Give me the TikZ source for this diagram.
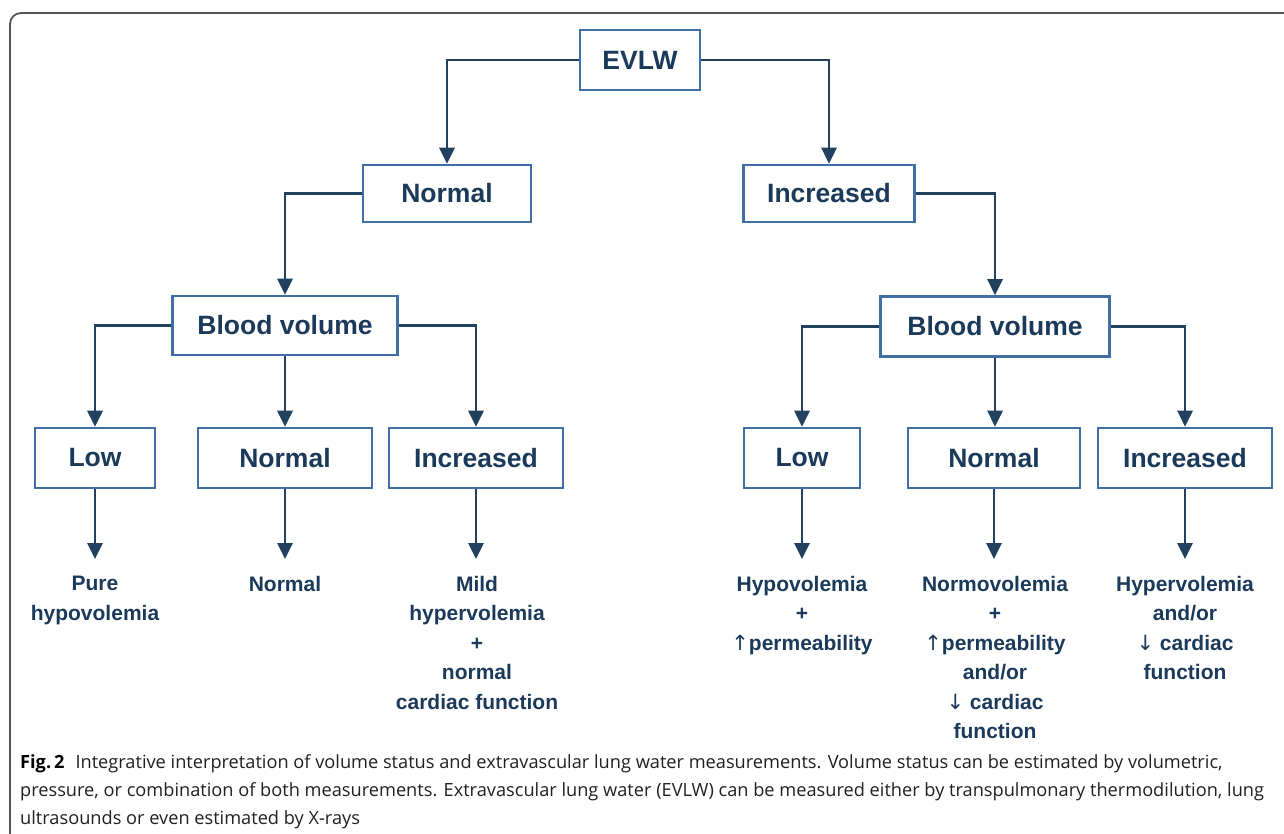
\documentclass[tikz,border=0pt]{standalone}
\usepackage{fontspec}
\setmainfont{Liberation Sans}
\newfontfamily\capfont{Open Sans}
\newfontfamily\arrowfont{DejaVu Sans}
\usetikzlibrary{arrows.meta,positioning}
\definecolor{navy}{HTML}{1B3A5A}
\definecolor{boxblue}{HTML}{3F6FA5}
\definecolor{linecol}{HTML}{22415F}
\definecolor{capcol}{HTML}{231F20}
\definecolor{framecol}{HTML}{555555}
\tikzset{
  box/.style={draw=boxblue, line width=2.6pt, fill=white, text=navy,
    font=\fontsize{26.5}{30}\selectfont\bfseries, inner sep=0pt},
  conn/.style={draw=linecol, line width=2.8pt, -{Triangle[width=15pt,length=16pt]}},
  result/.style={text=navy, font=\fontsize{21}{29.4}\selectfont\bfseries,
    align=center, anchor=north, inner sep=0pt},
  captxt/.style={text=capcol, font=\capfont\fontsize{18.2}{28}\selectfont, anchor=base west, inner sep=0pt}
}
\begin{document}
\begin{tikzpicture}[x=1pt,y=-1pt]
\useasboundingbox (0,0) rectangle (1284,833);
\begin{scope}
\clip (0,0) rectangle (1284,833);
\draw[framecol, line width=1.8pt, rounded corners=11pt] (1300,13) -- (10,13) -- (10,860);
\end{scope}

% boxes
\node[box, minimum width=120pt, minimum height=60pt] (evlw) at (640,60) {EVLW};
\node[box, minimum width=168pt, minimum height=57pt] (nor) at (447,193.5) {Normal};
\node[box, minimum width=171pt, minimum height=57pt] (inc) at (829,193.5) {Increased};
\node[box, minimum width=225pt, minimum height=59pt] (bva) at (285,325.5) {Blood volume};
\node[box, minimum width=229pt, minimum height=60pt] (bvb) at (995,326.5) {Blood volume};
\node[box, minimum width=120pt, minimum height=60pt] (lowa) at (95,458) {Low};
\node[box, minimum width=174pt, minimum height=60pt] (norma) at (285,458) {Normal};
\node[box, minimum width=174pt, minimum height=60pt] (inca) at (476,458) {Increased};
\node[box, minimum width=116pt, minimum height=60pt] (lowb) at (802,458) {Low};
\node[box, minimum width=172pt, minimum height=60pt] (normb) at (994,458) {Normal};
\node[box, minimum width=174pt, minimum height=60pt] (incb) at (1185,458) {Increased};

% results
\node[result] (ra) at (95,576) {Pure\\hypovolemia};
\node[result] (rb) at (285,576) {Normal};
\node[result] (rc) at (477,576) {Mild\\hypervolemia\\+\\normal\\cardiac function};
\node[result] (rd) at (802,576) {Hypovolemia\\+\\{\arrowfont\mdseries ↑}permeability};
\node[result] (re) at (995,576) {Normovolemia\\+\\{\arrowfont\mdseries ↑}permeability\\and/or\\{\arrowfont\mdseries ↓} cardiac\\function};
\node[result] (rf) at (1185,576) {Hypervolemia\\and/or\\{\arrowfont\mdseries ↓} cardiac\\function};

% connectors
\draw[conn] (evlw.west) -| (nor.north);
\draw[conn] (evlw.east) -| (inc.north);
\draw[conn] (nor.west) -| (bva.north);
\draw[conn] (inc.east) -| (bvb.north);
\draw[conn] (bva.west) -| (lowa.north);
\draw[conn] (bva.south) -- (norma.north);
\draw[conn] (bva.east) -| (inca.north);
\draw[conn] (bvb.west) -| (lowb.north);
\draw[conn] (bvb.south) -- (bvb.south |- normb.north);
\draw[conn] (bvb.east) -| (incb.north);

\coordinate (ea) at (95,559);
\coordinate (eb) at (285,559);
\coordinate (ec) at (476,559);
\coordinate (ed) at (802,559);
\coordinate (ee) at (994,559);
\coordinate (ef) at (1185,559);
\draw[conn] (lowa.south) -- (ea);
\draw[conn] (norma.south) -- (eb);
\draw[conn] (inca.south) -- (ec);
\draw[conn] (lowb.south) -- (ed);
\draw[conn] (normb.south) -- (ee);
\draw[conn] (incb.south) -- (ef);

% caption
\node[captxt] (c1) at (20,768) {{\bfseries\color{black}Fig.\,2}\hspace{0.6em}Integrative interpretation of volume status and extravascular lung water measurements. Volume status can be estimated by volumetric,};
\node[captxt] (c2) at (20,796) {pressure, or combination of both measurements. Extravascular lung water (EVLW) can be measured either by transpulmonary thermodilution, lung};
\node[captxt] (c3) at (20,824) {ultrasounds or even estimated by X-rays};
\end{tikzpicture}
\end{document}
